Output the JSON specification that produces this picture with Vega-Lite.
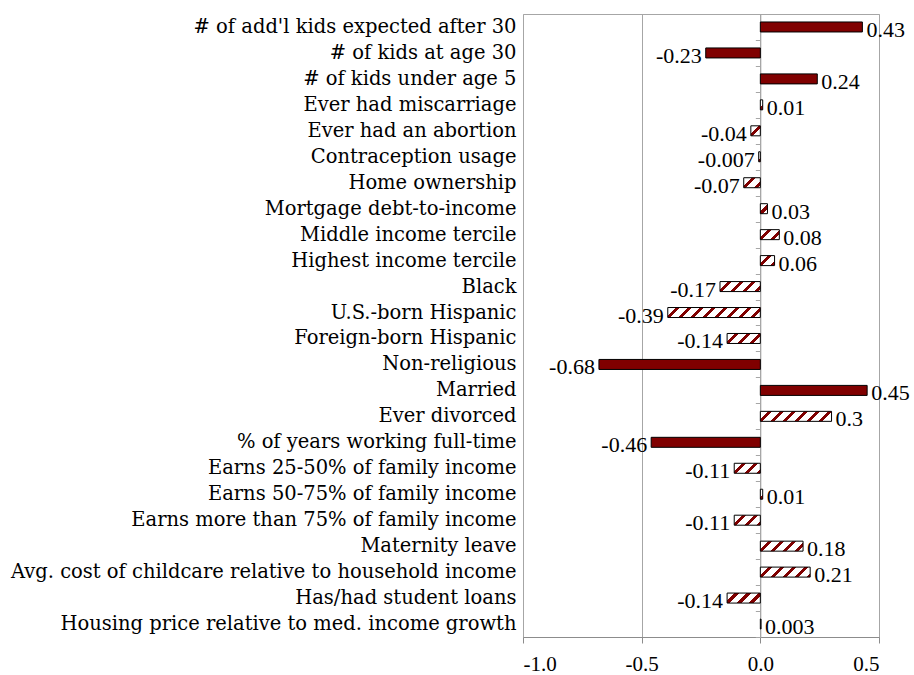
{
  "$schema": "https://vega.github.io/schema/vega-lite/v6.json",
  "width": 356,
  "height": 623,
  "autosize": "none",
  "padding": {"left": 523, "top": 14, "right": 35, "bottom": 38},
  "background": "white",
  "config": {"view": {"stroke": "#a6a6a6", "strokeWidth": 1}, "font": "Liberation Serif"},
  "data": {
    "values": [
      {"label": "# of add'l kids expected after 30", "value": 0.43, "sig": true},
      {"label": "# of kids at age 30", "value": -0.23, "sig": true},
      {"label": "# of kids under age 5", "value": 0.24, "sig": true},
      {"label": "Ever had miscarriage", "value": 0.01, "sig": false},
      {"label": "Ever had an abortion", "value": -0.04, "sig": false},
      {"label": "Contraception usage", "value": -0.007, "sig": false},
      {"label": "Home ownership", "value": -0.07, "sig": false},
      {"label": "Mortgage debt-to-income", "value": 0.03, "sig": false},
      {"label": "Middle income tercile", "value": 0.08, "sig": false},
      {"label": "Highest income tercile", "value": 0.06, "sig": false},
      {"label": "Black", "value": -0.17, "sig": false},
      {"label": "U.S.-born Hispanic", "value": -0.39, "sig": false},
      {"label": "Foreign-born Hispanic", "value": -0.14, "sig": false},
      {"label": "Non-religious", "value": -0.68, "sig": true},
      {"label": "Married", "value": 0.45, "sig": true},
      {"label": "Ever divorced", "value": 0.3, "sig": false},
      {"label": "% of years working full-time", "value": -0.46, "sig": true},
      {"label": "Earns 25-50% of family income", "value": -0.11, "sig": false},
      {"label": "Earns 50-75% of family income", "value": 0.01, "sig": false},
      {"label": "Earns more than 75% of family income", "value": -0.11, "sig": false},
      {"label": "Maternity leave", "value": 0.18, "sig": false},
      {"label": "Avg. cost of childcare relative to household income", "value": 0.21, "sig": false},
      {"label": "Has/had student loans", "value": -0.14, "sig": false},
      {"label": "Housing price relative to med. income growth", "value": 0.003, "sig": false}
    ]
  },
  "layer": [
    {
      "mark": {
        "type": "bar",
        "size": 10,
        "stroke": "black",
        "strokeWidth": 1,
        "fill": {"expr": "datum.sig ? '#800000' : {gradient: 'linear', x1: 0, y1: 0, x2: 120*abs(scale('x',datum.value)-scale('x',0))/(pow(scale('x',datum.value)-scale('x',0),2)+100), y2: 1200/(pow(scale('x',datum.value)-scale('x',0),2)+100), stops: [{offset:0,color:'white'},{offset:0.065,color:'white'},{offset:0.065,color:'#800000'},{offset:0.1,color:'#800000'},{offset:0.1,color:'white'},{offset:0.165,color:'white'},{offset:0.165,color:'#800000'},{offset:0.2,color:'#800000'},{offset:0.2,color:'white'},{offset:0.265,color:'white'},{offset:0.265,color:'#800000'},{offset:0.3,color:'#800000'},{offset:0.3,color:'white'},{offset:0.365,color:'white'},{offset:0.365,color:'#800000'},{offset:0.4,color:'#800000'},{offset:0.4,color:'white'},{offset:0.465,color:'white'},{offset:0.465,color:'#800000'},{offset:0.5,color:'#800000'},{offset:0.5,color:'white'},{offset:0.565,color:'white'},{offset:0.565,color:'#800000'},{offset:0.6,color:'#800000'},{offset:0.6,color:'white'},{offset:0.665,color:'white'},{offset:0.665,color:'#800000'},{offset:0.7,color:'#800000'},{offset:0.7,color:'white'},{offset:0.765,color:'white'},{offset:0.765,color:'#800000'},{offset:0.8,color:'#800000'},{offset:0.8,color:'white'},{offset:0.865,color:'white'},{offset:0.865,color:'#800000'},{offset:0.9,color:'#800000'},{offset:0.9,color:'white'},{offset:0.965,color:'white'},{offset:0.965,color:'#800000'},{offset:1,color:'#800000'}]}"}
      },
      "encoding": {
        "x": {
          "field": "value",
          "type": "quantitative",
          "scale": {"domain": [-1, 0.5], "nice": false, "zero": false},
          "axis": {
            "values": [-1, -0.5, 0, 0.5],
            "grid": true,
            "gridColor": "#a6a6a6",
            "domainColor": "#8c8c8c",
            "tickColor": "#8c8c8c",
            "tickSize": 6,
            "labelExpr": "replace(format(datum.value, '.1f'), '\u2212', '-')",
            "labelFont": "Liberation Serif",
            "labelFontSize": 21,
            "labelColor": "black",
            "labelPadding": 10,
            "title": null
          }
        },
        "y": {
          "field": "label",
          "type": "nominal",
          "sort": null,
          "scale": {"paddingInner": 0, "paddingOuter": 0},
          "axis": {
            "title": null,
            "ticks": false,
            "domain": false,
            "labelFont": "DejaVu Serif",
            "labelFontSize": 19.5,
            "labelColor": "black",
            "labelLimit": 600,
            "labelPadding": 7
          }
        }
      }
    },
    {
      "mark": {
        "type": "text",
        "align": {"expr": "datum.value < 0 ? 'right' : 'left'"},
        "dx": {"expr": "datum.value < 0 ? -4 : 4"},
        "dy": 3,
        "baseline": "middle",
        "font": "Liberation Serif",
        "fontSize": 22,
        "fill": "black"
      },
      "encoding": {
        "x": {"field": "value", "type": "quantitative"},
        "y": {
          "field": "label",
          "type": "nominal",
          "sort": null,
          "axis": {
            "orient": "left",
            "offset": -237.33,
            "title": null,
            "labels": false,
            "grid": false,
            "domain": true,
            "domainColor": "#a6a6a6",
            "ticks": true,
            "tickColor": "#a6a6a6",
            "tickSize": 5,
            "tickBand": "extent"
          }
        },
        "text": {"field": "value", "type": "nominal"}
      }
    }
  ],
  "resolve": {"axis": {"y": "independent"}}
}
